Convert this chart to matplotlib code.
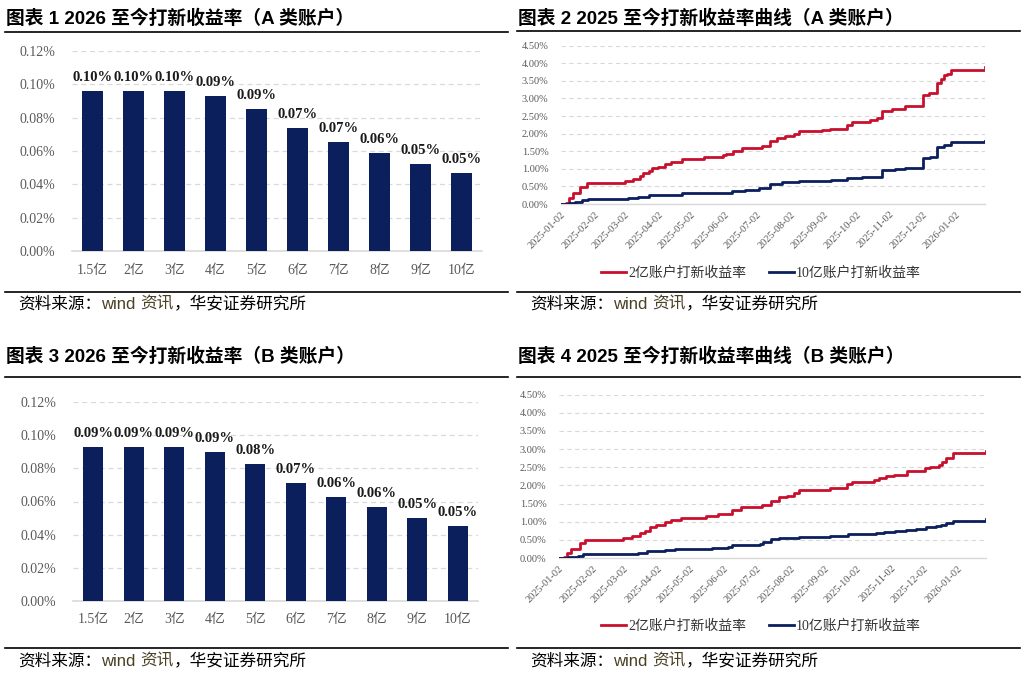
import numpy as np
import pandas as pd
import matplotlib
matplotlib.use("Agg")
import matplotlib.pyplot as plt
import matplotlib.dates as mdates
from matplotlib.lines import Line2D

plt.rcParams['font.family'] = ['Liberation Serif', 'Noto Sans CJK SC']
plt.rcParams['axes.unicode_minus'] = False

W, H = 1024, 676

# ---- data ----
bar_cats = ['1.5亿', '2亿', '3亿', '4亿', '5亿', '6亿', '7亿', '8亿', '9亿', '10亿']
bar_a = [0.0958, 0.0958, 0.0958, 0.0928, 0.0852, 0.0736, 0.0652, 0.0588, 0.0522, 0.0468]
bar_b = [0.0929, 0.0929, 0.0929, 0.0901, 0.0825, 0.0709, 0.0627, 0.0565, 0.0503, 0.0451]

a2_dates = ['2025-01-02', '2025-01-07', '2025-01-09', '2025-01-13', '2025-01-20', '2025-01-26',
            '2025-03-02', '2025-03-10', '2025-03-16', '2025-03-19', '2025-03-24', '2025-03-27',
            '2025-04-02', '2025-04-08', '2025-04-14', '2025-04-24', '2025-05-14', '2025-06-01',
            '2025-06-04', '2025-06-10', '2025-06-18', '2025-07-04', '2025-07-07', '2025-07-14',
            '2025-07-21', '2025-07-28', '2025-08-05', '2025-08-10', '2025-08-31', '2025-09-08',
            '2025-09-23', '2025-09-28', '2025-10-15', '2025-10-21', '2025-10-26', '2025-11-04',
            '2025-11-16', '2025-12-03', '2025-12-08', '2025-12-16', '2025-12-19', '2025-12-22',
            '2025-12-25', '2025-12-29', '2026-01-29']
a2_vals = [0.00, 0.03, 0.18, 0.30, 0.49, 0.61,
           0.65, 0.72, 0.80, 0.87, 0.95, 1.02,
           1.05, 1.15, 1.20, 1.27, 1.35, 1.38,
           1.42, 1.52, 1.58, 1.60, 1.65, 1.78,
           1.88, 1.92, 2.00, 2.08, 2.10, 2.13,
           2.25, 2.33, 2.38, 2.45, 2.65, 2.70,
           2.80, 3.10, 3.15, 3.45, 3.55, 3.68,
           3.70, 3.82, 3.90]

a10_dates = ['2025-01-02', '2025-01-09', '2025-01-15', '2025-01-21', '2025-01-27', '2025-03-05',
             '2025-03-14', '2025-03-24', '2025-04-08', '2025-04-24', '2025-06-03', '2025-06-09',
             '2025-06-21', '2025-07-04', '2025-07-14', '2025-07-25', '2025-08-10', '2025-09-09',
             '2025-09-23', '2025-10-07', '2025-10-23', '2025-10-26', '2025-11-07', '2025-11-16',
             '2025-12-03', '2025-12-09', '2025-12-16', '2025-12-22', '2025-12-29', '2026-01-29']
a10_vals = [0.00, 0.03, 0.07, 0.10, 0.15, 0.17,
            0.20, 0.25, 0.27, 0.30, 0.32, 0.38,
            0.40, 0.45, 0.58, 0.62, 0.65, 0.68,
            0.74, 0.76, 0.78, 0.97, 1.00, 1.03,
            1.32, 1.35, 1.62, 1.68, 1.75, 1.80]

b2_dates = ['2025-01-02', '2025-01-07', '2025-01-09', '2025-01-13', '2025-01-21', '2025-01-26',
            '2025-03-02', '2025-03-10', '2025-03-17', '2025-03-22', '2025-03-26', '2025-04-01',
            '2025-04-09', '2025-04-15', '2025-04-24', '2025-05-17', '2025-05-28', '2025-06-06',
            '2025-06-09', '2025-06-18', '2025-07-07', '2025-07-15', '2025-07-22', '2025-07-30',
            '2025-08-05', '2025-08-10', '2025-09-07', '2025-09-23', '2025-09-27', '2025-10-17',
            '2025-10-22', '2025-10-28', '2025-11-05', '2025-11-17', '2025-12-03', '2025-12-08',
            '2025-12-16', '2025-12-19', '2025-12-22', '2025-12-29', '2026-01-28']
b2_vals = [0.00, 0.02, 0.15, 0.25, 0.40, 0.50,
           0.55, 0.60, 0.70, 0.75, 0.85, 0.90,
           1.00, 1.05, 1.10, 1.17, 1.20, 1.22,
           1.33, 1.40, 1.45, 1.57, 1.68, 1.72,
           1.80, 1.88, 1.92, 2.05, 2.10, 2.15,
           2.20, 2.25, 2.30, 2.40, 2.48, 2.52,
           2.55, 2.65, 2.75, 2.88, 2.96]

b10_dates = ['2025-01-02', '2025-01-10', '2025-01-19', '2025-01-24', '2025-03-03', '2025-03-15',
             '2025-03-24', '2025-04-09', '2025-04-18', '2025-05-22', '2025-06-06', '2025-06-09',
             '2025-06-21', '2025-07-05', '2025-07-08', '2025-07-15', '2025-07-22', '2025-08-10',
             '2025-09-07', '2025-09-21', '2025-09-24', '2025-10-19', '2025-10-27', '2025-11-06',
             '2025-11-16', '2025-11-25', '2025-12-04', '2025-12-13', '2025-12-18', '2025-12-22',
             '2025-12-29', '2026-01-28']
b10_vals = [0.00, 0.03, 0.06, 0.10, 0.12, 0.15,
            0.20, 0.22, 0.25, 0.27, 0.30, 0.35,
            0.37, 0.38, 0.45, 0.52, 0.55, 0.58,
            0.60, 0.62, 0.67, 0.70, 0.73, 0.75,
            0.78, 0.80, 0.85, 0.88, 0.92, 0.97,
            1.03, 1.07]

month_ticks = ['2025-01-02', '2025-02-02', '2025-03-02', '2025-04-02', '2025-05-02', '2025-06-02',
               '2025-07-02', '2025-08-02', '2025-09-02', '2025-10-02', '2025-11-02', '2025-12-02',
               '2026-01-02']

titles = ['图表 1 2026 至今打新收益率（A 类账户）', '图表 2 2025 至今打新收益率曲线（A 类账户）',
          '图表 3 2026 至今打新收益率（B 类账户）', '图表 4 2025 至今打新收益率曲线（B 类账户）']

NAVY = '#0b1f5c'
RED = '#c8102e'
BLUE = '#0b1f5c'
GRID = '#d9d9d9'
TICK = '#595959'
OLIVE = '#4a4023'

fig = plt.figure(figsize=(W / 100, H / 100), dpi=100)


def px_axes(x0, y0, x1, y1):
    return fig.add_axes([x0 / W, 1 - y1 / H, (x1 - x0) / W, (y1 - y0) / H])


def hline(x0, x1, y):
    fig.add_artist(Line2D([x0 / W, x1 / W], [1 - y / H, 1 - y / H], color='black', lw=1.2))


def source(x, y):
    r = fig.canvas.get_renderer()
    parts = [('资料来源：', 'black', ['Noto Sans CJK SC']),
             ('wind ', OLIVE, ['Liberation Sans', 'Noto Sans CJK SC']),
             ('资讯', OLIVE, ['Noto Sans CJK SC']),
             ('，华安证券研究所', 'black', ['Noto Sans CJK SC'])]
    cx = x
    for s, c, fam in parts:
        t = fig.text(cx / W, 1 - y / H, s, color=c, family=fam, fontsize=12, va='center', ha='left')
        bb = t.get_window_extent(renderer=r)
        cx += bb.width


def bar_panel(box, vals):
    ax = px_axes(*box)
    x = np.arange(len(bar_cats))
    bars = ax.bar(x, vals, width=0.49, color=NAVY, zorder=3)
    for b, v in zip(bars, vals):
        ax.annotate(f'{v:.2f}%', (b.get_x() + b.get_width() / 2, v), xytext=(0, 5),
                    textcoords='offset points', ha='center', va='bottom',
                    fontsize=10.5, fontweight='bold', color='#1a1a1a')
    ax.set_xlim(-0.5, len(bar_cats) - 0.5)
    ax.set_ylim(0, 0.12)
    ax.set_yticks(np.arange(0, 0.121, 0.02))
    ax.set_yticklabels([f'{v:.2f}%' for v in np.arange(0, 0.121, 0.02)])
    ax.set_xticks(x)
    ax.set_xticklabels(bar_cats)
    ax.yaxis.grid(True, ls=(0, (4, 3)), color=GRID, lw=0.9, zorder=0)
    for s in ['top', 'right', 'left']:
        ax.spines[s].set_visible(False)
    ax.spines['bottom'].set_color(GRID)
    ax.spines['bottom'].set_linewidth(1.2)
    ax.tick_params(axis='both', length=0, labelsize=10, colors=TICK)
    ax.tick_params(axis='y', pad=12)
    ax.tick_params(axis='x', pad=9)
    return ax


def line_panel(box, d2, v2, d10, v10, leg_y):
    ax = px_axes(*box)
    t2 = pd.to_datetime(d2)
    t10 = pd.to_datetime(d10)
    ax.plot(t2, v2, drawstyle='steps-post', color=RED, lw=2.0, label='2亿账户打新收益率', zorder=3)
    ax.plot(t10, v10, drawstyle='steps-post', color=BLUE, lw=2.0, label='10亿账户打新收益率', zorder=3)
    ax.set_xlim(min(t2[0], t10[0]), max(t2[-1], t10[-1]))
    ax.set_ylim(0, 4.5)
    yt = np.arange(0, 4.51, 0.5)
    ax.set_yticks(yt)
    ax.set_yticklabels([f'{v:.2f}%' for v in yt])
    ax.set_xticks(pd.to_datetime(month_ticks))
    ax.xaxis.set_major_formatter(mdates.DateFormatter('%Y-%m-%d'))
    for lab in ax.get_xticklabels():
        lab.set_rotation(45)
        lab.set_ha('right')
        lab.set_rotation_mode('anchor')
    ax.yaxis.grid(True, ls=(0, (4, 3)), color=GRID, lw=0.8, zorder=0)
    for s in ['top', 'right', 'left']:
        ax.spines[s].set_visible(False)
    ax.spines['bottom'].set_color(GRID)
    ax.spines['bottom'].set_linewidth(1.0)
    ax.tick_params(axis='both', length=0, labelsize=7.5, colors=TICK)
    ax.tick_params(axis='y', pad=9)
    ax.tick_params(axis='x', pad=4)
    fig.legend(handles=ax.get_lines(), loc='center', bbox_to_anchor=(761 / W, 1 - leg_y / H),
               ncol=2, frameon=False, fontsize=10, handlelength=1.8, handletextpad=0.15,
               columnspacing=1.6, labelcolor='#333333')
    return ax


# ---- titles and rules ----
title_pos = [(6, 19), (518, 19), (6, 357), (518, 357)]
for (tx, ty), s in zip(title_pos, titles):
    fig.text(tx / W, 1 - ty / H, s, family=['Liberation Sans', 'Noto Sans CJK SC'],
             fontsize=13.5, fontweight='bold', va='center', ha='left')

hline(5, 508, 32)
hline(517, 1020, 31)
hline(5, 508, 377)
hline(517, 1020, 377)
hline(5, 508, 292)
hline(517, 1020, 292)
hline(5, 508, 648)
hline(517, 1020, 648)

# ---- panels ----
bar_panel((72, 51, 482, 251), bar_a)
bar_panel((73, 402, 478, 601), bar_b)
line_panel((561, 45.7, 985, 204), a2_dates, a2_vals, a10_dates, a10_vals, 273)
line_panel((559, 394.7, 986, 558), b2_dates, b2_vals, b10_dates, b10_vals, 626)

source(18, 304)
source(530, 304)
source(18, 661)
source(530, 661)

fig.savefig('out.png', dpi=100, facecolor='white')
